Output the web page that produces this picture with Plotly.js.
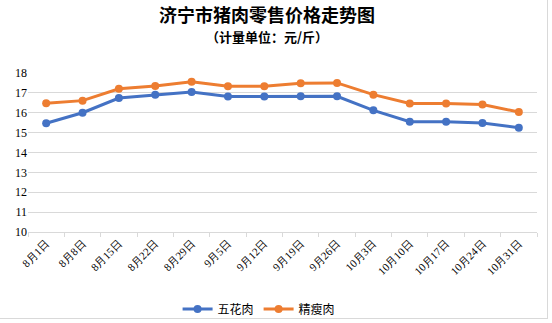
<!DOCTYPE html>
<html>
<head>
<meta charset="utf-8">
<script src="https://cdn.plot.ly/plotly-3.0.1.min.js"></script>
<style>
html,body{margin:0;padding:0;background:#fff;}
#chart{width:552px;height:323px;position:absolute;left:0;top:0;}
#frame{position:absolute;left:0;top:0;width:547px;height:318px;border-right:1px solid #d9d9d9;border-bottom:1px solid #d9d9d9;pointer-events:none;}
</style>
</head>
<body>
<div id="chart"></div>
<div id="frame"></div>
<script>
const dates = ["8月1日","8月8日","8月15日","8月22日","8月29日","9月5日","9月12日","9月19日","9月26日","10月3日","10月10日","10月17日","10月24日","10月31日"];
const wuhuarou = [15.47, 16.0, 16.74, 16.9, 17.04, 16.82, 16.82, 16.83, 16.83, 16.12, 15.55, 15.55, 15.48, 15.25];
const jingshourou = [16.48, 16.61, 17.21, 17.35, 17.56, 17.33, 17.33, 17.48, 17.5, 16.91, 16.47, 16.47, 16.41, 16.04];
const seriesNames = ["五花肉", "精瘦肉"];
const titleText = "济宁市猪肉零售价格走势图";
const subtitleText = "（计量单位：元/斤）";

const cjk = '"Noto Sans CJK SC", "Noto Sans", sans-serif';
const serif = '"Liberation Serif", "DejaVu Serif", serif';

const traces = [
  {x: dates, y: wuhuarou, name: seriesNames[0], type: 'scatter', mode: 'lines+markers',
   line: {color: '#4472C4', width: 3}, marker: {color: '#4472C4', size: 8}},
  {x: dates, y: jingshourou, name: seriesNames[1], type: 'scatter', mode: 'lines+markers',
   line: {color: '#ED7D31', width: 3}, marker: {color: '#ED7D31', size: 8}}
];

const layout = {
  width: 552, height: 323,
  margin: {l: 28, r: 15, t: 73, b: 91, autoexpand: false},
  paper_bgcolor: '#fff', plot_bgcolor: '#fff',
  showlegend: true,
  legend: {orientation: 'h', x: 0.454, xanchor: 'center', y: -0.484, yanchor: 'middle',
           font: {family: cjk, size: 12, color: '#000'}, itemwidth: 30},
  xaxis: {type: 'category', range: [-0.5, 13.5], showgrid: false, automargin: false,
          showline: true, linecolor: '#d9d9d9', linewidth: 1,
          ticks: 'outside', tickson: 'boundaries', ticklen: 4, tickcolor: '#d9d9d9',
          tickangle: -45, tickfont: {family: serif, size: 11, color: '#000'}, fixedrange: true},
  yaxis: {range: [10, 18], dtick: 1, showgrid: true, gridcolor: '#d9d9d9', gridwidth: 1,
          showline: false, zeroline: false, ticks: '', automargin: false,
          tickfont: {family: serif, size: 12, color: '#000'}, fixedrange: true},
  annotations: [
    {text: '<b>' + titleText + '</b>', xref: 'paper', yref: 'paper', x: 0.4696, y: 1.372,
     xanchor: 'center', yanchor: 'middle', showarrow: false,
     font: {family: cjk, size: 18, color: '#000'}},
    {text: '<b>' + subtitleText + '</b>', xref: 'paper', yref: 'paper', x: 0.4696, y: 1.228,
     xanchor: 'center', yanchor: 'middle', showarrow: false,
     font: {family: cjk, size: 13, color: '#000'}}
  ]
};

Plotly.newPlot('chart', traces, layout, {displayModeBar: false, staticPlot: true});
</script>
</body>
</html>
